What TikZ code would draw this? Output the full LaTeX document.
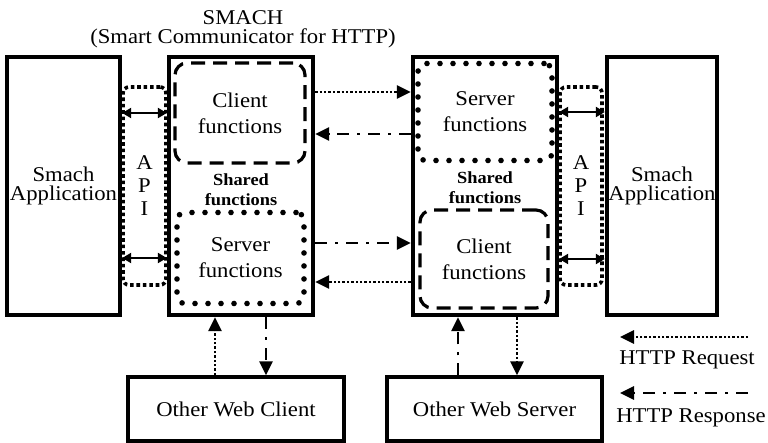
\documentclass[tikz,border=0pt]{standalone}
\usepackage{fontspec}
\setmainfont[FakeStretch=1.08]{Liberation Serif}
\usetikzlibrary{arrows.meta}
\usetikzlibrary{calc}

\begin{document}
\begin{tikzpicture}[line cap=round,line join=round,>={Triangle[length=7pt,width=6.5pt]},x=0.5pt,y=-0.5pt,
  txt/.style={font=\fontsize{10.5}{9.5}\selectfont,align=center},
  fntxt/.style={font=\fontsize{10.5}{13}\selectfont,align=center},
  sharedtxt/.style={font=\fontsize{8.5}{10}\selectfont\bfseries,align=center},
  thickbox/.style={draw,line width=2.2pt,line cap=butt,line join=miter,inner sep=0pt},
  webbox/.style={draw,line width=1.7pt,line cap=butt,line join=miter,inner sep=0pt,minimum height=32pt},
  apibox/.style={draw,line width=1.8pt,line cap=butt,dash pattern=on 1.8pt off 1.4pt,rounded corners=3pt,inner sep=0pt,minimum width=21.5pt,minimum height=99pt,font=\fontsize{10.5}{11.5}\selectfont,align=center},
  clibox/.style={draw,line width=1.6pt,line cap=butt,dash pattern=on 7pt off 4pt,rounded corners=6pt,inner sep=0pt},
  srvbox/.style={draw,line width=2.8pt,line cap=round,dash pattern=on 0pt off 6.5pt,rounded corners=4pt,inner sep=0pt},
  req/.style={line width=1.4pt,line cap=butt,dash pattern=on 1.2pt off 1pt},
  resp/.style={line width=1.4pt,line cap=butt,dash pattern=on 6pt off 4pt on 1.5pt off 4pt},
  apiarrow/.style={line width=1.3pt,{Triangle[length=4.5pt,width=5pt]}-{Triangle[length=4.5pt,width=5pt]}}]
\useasboundingbox (0,0) rectangle (768,443);
\node[txt] (title) at (243,29) {SMACH\\(Smart Communicator for HTTP)};
\node[thickbox,minimum width=56.5pt,minimum height=129pt,txt] (lapp) at (63.5,186) {Smach\\Application};
\node[apibox] (lapi) at (144.5,186) {A\\P\\I};
\node[thickbox,minimum width=72pt,minimum height=129pt] (lsmach) at (241,186) {};
\node[clibox,minimum width=65pt,minimum height=50pt,fntxt] (lcli) at (240,113) {Client\\functions};
\node[sharedtxt] (lshared) at (241,190) {Shared\\functions};
\node[srvbox,minimum width=63.5pt,minimum height=45.5pt,fntxt] (lsrv) at (240.5,258) {Server\\functions};
\node[thickbox,minimum width=72pt,minimum height=129pt] (rsmach) at (485,186) {};
\node[srvbox,minimum width=67pt,minimum height=48.5pt,fntxt] (rsrv) at (485,112) {Server\\functions};
\node[sharedtxt] (rshared) at (485,188) {Shared\\functions};
\node[clibox,minimum width=64pt,minimum height=49pt,fntxt] (rcli) at (484,259) {Client\\functions};
\node[apibox,minimum width=21pt] (rapi) at (581,186) {A\\P\\I};
\node[thickbox,minimum width=55pt,minimum height=129pt,txt] (rapp) at (662,186) {Smach\\Application};
\node[webbox,minimum width=108pt,txt] (wclient) at (236,409) {Other Web Client};
\node[webbox,minimum width=107.5pt,txt] (wserver) at (494.5,409) {Other Web Server};
\draw[apiarrow] (lapp.east |- lcli) -- (lsmach.west |- lcli);
\draw[apiarrow] (lapp.east |- lsrv) -- (lsmach.west |- lsrv);
\draw[apiarrow] (rsmach.east |- rsrv) -- (rapp.west |- rsrv);
\draw[apiarrow] (rsmach.east |- rcli) -- (rapp.west |- rcli);
\draw[req,->] ($(lsmach.east |- lcli)+(0,-21)$) -- ($(rsmach.west |- lcli)+(0,-21)$);
\draw[resp,->] ($(rsmach.west |- lcli)+(0,21)$) -- ($(lsmach.east |- lcli)+(0,21)$);
\draw[resp,->] ($(lsmach.east |- lsrv)+(0,-15)$) -- ($(rsmach.west |- lsrv)+(0,-15)$);
\draw[req,->] ($(rsmach.west |- lsrv)+(0,24)$) -- ($(lsmach.east |- lsrv)+(0,24)$);
\draw[req,->] ([xshift=-10.5pt]wclient.north) -- ([xshift=-10.5pt]wclient.north |- lsmach.south);
\draw[resp,->] ([xshift=15pt]wclient.north |- lsmach.south) -- ([xshift=15pt]wclient.north);
\draw[resp,->] ([xshift=-18.25pt]wserver.north) -- ([xshift=-18.25pt]wserver.north |- rsmach.south);
\draw[req,->] ([xshift=11.25pt]wserver.north |- rsmach.south) -- ([xshift=11.25pt]wserver.north);
\coordinate (reqa) at (748,337);
\coordinate (reqb) at (620,337);
\coordinate (respa) at (748,393);
\coordinate (respb) at (620,393);
\draw[req,->] (reqa) -- (reqb);
\draw[resp,->] (respa) -- (respb);
\node[txt] (reqtxt) at (687,360) {HTTP Request};
\node[txt] (resptxt) at (691,418) {HTTP Response};
\end{tikzpicture}
\end{document}
